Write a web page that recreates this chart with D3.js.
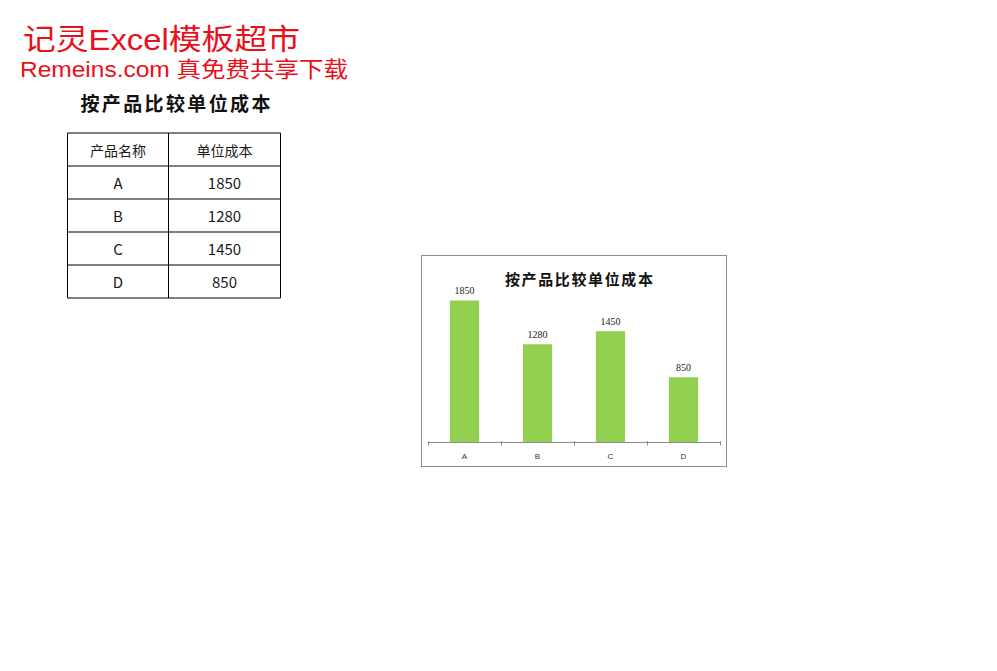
<!DOCTYPE html>
<html><head><meta charset="utf-8">
<script src="https://cdn.jsdelivr.net/npm/d3@7"></script>
<style>
html,body{margin:0;padding:0;background:#fff;}
svg{display:block;}
</style></head>
<body>
<script>
const categories = ["A", "B", "C", "D"];
const values = [1850, 1280, 1450, 850];
const headers = ["产品名称", "单位成本"];
const chartTitle = "按产品比较单位成本";
const brandLine1 = "记灵Excel模板超市";
const brandLine2 = "Remeins.com 真免费共享下载";
const yDomain = [0, 2000];

const W = 997, H = 671;
const svg = d3.select("body").append("svg").attr("width", W).attr("height", H);
svg.append("rect").attr("width", W).attr("height", H).attr("fill", "#fff");

const CJK = "'Noto Sans CJK SC','Noto Sans',sans-serif";
const BRAND = "'Liberation Sans','Noto Sans CJK SC',sans-serif";

// Brand text
svg.append("text").attr("x", 23).attr("y", 50).text(brandLine1)
  .attr("font-family", BRAND).attr("font-size", 29).attr("fill", "#e8101a")
  .attr("textLength", 277).attr("lengthAdjust", "spacingAndGlyphs");
svg.append("text").attr("x", 20).attr("y", 77).text(brandLine2)
  .attr("font-family", BRAND).attr("font-size", 21.5).attr("fill", "#e8101a")
  .attr("textLength", 328).attr("lengthAdjust", "spacingAndGlyphs");

// Heading
svg.append("text").attr("x", 80.5).attr("y", 111).text(chartTitle)
  .attr("font-family", CJK).attr("font-size", 19).attr("font-weight", 700).attr("fill", "#111")
  .attr("textLength", 190).attr("lengthAdjust", "spacing");

// Table
const colX = [67.5, 168.5, 280.5];
const rowY0 = 132.5, rowH = 33.1;
const nRows = categories.length + 1;
const rowY = d3.range(nRows + 1).map(i => Math.round(rowY0 + i * rowH));
const tbl = svg.append("g");
rowY.forEach(y => tbl.append("line").attr("x1", colX[0]).attr("x2", colX[2]).attr("y1", y).attr("y2", y)
  .attr("stroke", "#000").attr("stroke-width", 1));
colX.forEach(x => tbl.append("line").attr("x1", x).attr("x2", x).attr("y1", rowY[0]).attr("y2", rowY[nRows])
  .attr("stroke", "#000").attr("stroke-width", 1));
const rows = [headers].concat(categories.map((c, i) => [c, String(values[i])]));
rows.forEach((r, i) => {
  r.forEach((t, j) => {
    tbl.append("text").attr("x", (colX[j] + colX[j + 1]) / 2).attr("y", (rowY[i] + rowY[i + 1]) / 2)
      .attr("text-anchor", "middle").attr("dominant-baseline", "central")
      .attr("font-family", CJK).attr("font-size", i === 0 ? 14 : 15).attr("fill", "#1a1a1a").text(t);
  });
});

// Chart
const frame = {x: 421.5, y: 255.5, w: 305, h: 211};
svg.append("rect").attr("x", frame.x).attr("y", frame.y).attr("width", frame.w).attr("height", frame.h)
  .attr("fill", "#fff").attr("stroke", "#8c8c8c").attr("stroke-width", 1);

svg.append("text").attr("x", 505).attr("y", 284.5).text(chartTitle)
  .attr("font-family", CJK).attr("font-size", 15).attr("font-weight", 700).attr("fill", "#111")
  .attr("textLength", 148).attr("lengthAdjust", "spacing");

const x = d3.scaleBand().domain(categories).range([428, 720]).paddingInner(0.6).paddingOuter(0.3);
const y = d3.scaleLinear().domain(yDomain).range([442.5, 289]);

svg.append("g").selectAll("rect").data(categories).join("rect")
  .attr("x", d => x(d)).attr("width", x.bandwidth())
  .attr("y", (d, i) => y(values[i])).attr("height", (d, i) => y(0) - y(values[i]))
  .attr("fill", "#92d050");

svg.append("g").selectAll("text").data(categories).join("text")
  .attr("x", d => x(d) + x.bandwidth() / 2).attr("y", (d, i) => y(values[i]) - 6.5)
  .attr("text-anchor", "middle").attr("font-family", "'Liberation Serif',serif").attr("font-size", 10)
  .attr("fill", "#222").text((d, i) => values[i]);

// Axis
const axis = svg.append("g").attr("transform", `translate(0,${442.5})`)
  .call(d3.axisBottom(x).tickSize(0).tickPadding(10.5));
axis.select(".domain").attr("stroke", "#8c8c8c").attr("d", `M428,0H720`);
axis.selectAll(".tick text").attr("font-family", "'Liberation Sans',sans-serif").attr("font-size", 8).attr("fill", "#333");
const tickXs = d3.range(categories.length + 1).map(i => 428 + i * x.step());
axis.selectAll(".bt").data(tickXs).join("line").attr("class", "bt")
  .attr("x1", d => Math.round(d) + 0.5).attr("x2", d => Math.round(d) + 0.5)
  .attr("y1", -1.5).attr("y2", 3).attr("stroke", "#8c8c8c");
</script>
</body></html>
